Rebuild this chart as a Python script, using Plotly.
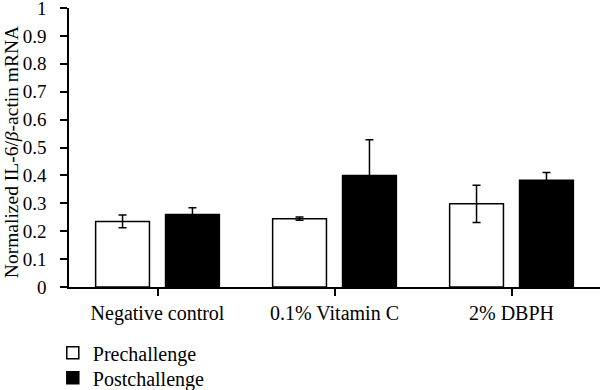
import plotly.graph_objects as go

categories = ["Negative control", "0.1% Vitamin C", "2% DBPH"]
pre_values = [0.235, 0.245, 0.298]
pre_errors = [0.023, 0.006, 0.067]
post_values = [0.260, 0.400, 0.383]
post_errors = [0.024, 0.128, 0.027]
y_ticks = [0, 0.1, 0.2, 0.3, 0.4, 0.5, 0.6, 0.7, 0.8, 0.9, 1]
y_tick_labels = ["0", "0.1", "0.2", "0.3", "0.4", "0.5", "0.6", "0.7", "0.8", "0.9", "1"]

FONT = "Liberation Serif"

fig = go.Figure()
fig.add_trace(go.Bar(
    name="Prechallenge", x=categories, y=pre_values, legend="legend",
    marker=dict(color="white", line=dict(color="black", width=1.5)),
    error_y=dict(type="data", array=pre_errors, visible=True, color="black", thickness=1.5, width=4),
))
fig.add_trace(go.Bar(
    name="Postchallenge", x=categories, y=post_values, legend="legend2",
    marker=dict(color="black", line=dict(color="black", width=1.5)),
    error_y=dict(type="data", array=post_errors, visible=True, color="black", thickness=1.5, width=4),
))

legend_common = dict(
    xref="container", yref="container", xanchor="left", yanchor="middle",
    orientation="v", font=dict(size=20, family=FONT, color="black"),
    bgcolor="rgba(0,0,0,0)",
)

fig.update_layout(
    width=600, height=390,
    margin=dict(l=69, r=0, t=8, b=103, autoexpand=False),
    paper_bgcolor="white", plot_bgcolor="white",
    font=dict(family=FONT, size=20, color="black"),
    barmode="group", bargap=0.21, bargroupgap=0.23,
    showlegend=True,
    legend=dict(x=0.088, y=0.0956, **legend_common),
    legend2=dict(x=0.088, y=0.0315, **legend_common),
    annotations=[dict(
        text="Normalized IL-6/<i>β</i>-actin mRNA", textangle=-90,
        xref="paper", yref="paper", x=-0.107, y=0.484,
        xanchor="center", yanchor="middle", showarrow=False,
        font=dict(size=19.5, family=FONT),
    )],
)
fig.update_xaxes(
    showline=True, linecolor="black", linewidth=1.5,
    ticks="outside", ticklen=7, tickwidth=1.5, tickcolor="black",
    tickfont=dict(size=20), tickangle=0, automargin=False,
    showgrid=False, zeroline=False,
)
fig.update_yaxes(
    range=[0, 1], showline=True, linecolor="black", linewidth=1.5,
    ticks="outside", ticklen=7, tickwidth=1.5, tickcolor="black",
    tickvals=y_ticks, ticktext=y_tick_labels, ticklabelstandoff=10,
    tickfont=dict(size=19), automargin=False, ticklabeloverflow="allow",
    showgrid=False, zeroline=False,
)

fig.write_html(
    "out.html",
    config={"displayModeBar": False},
    post_script="document.body.style.margin='0';",
)
